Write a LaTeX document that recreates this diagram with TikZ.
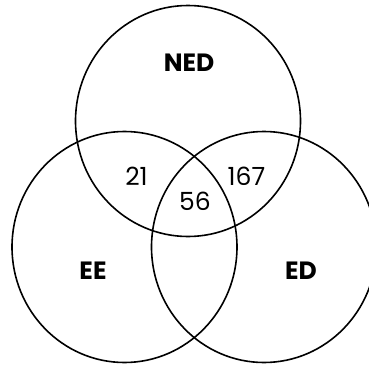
\documentclass[tikz,border=0pt]{standalone}
\usepackage{fontspec}
\setmainfont{Poppins}
\usepackage{tikz}
\usetikzlibrary{shapes.geometric}

\begin{document}
\begin{tikzpicture}[
  x=1pt, y=1pt,
  set/.style={ellipse, draw, line width=1.6pt, minimum width=225pt, minimum height=231pt, inner sep=0pt},
  setname/.style={font=\fontsize{25}{25}\selectfont\bfseries},
  count/.style={font=\fontsize{25}{25}\selectfont}
]
\useasboundingbox (0,0) rectangle (369,365);
\clip (0,0) rectangle (369,365);
\node[set] (ned) at (188,244) {};
\node[set] (ee) at (124.5,118) {};
\node[set] (ed) at (264,118) {};
\node[setname] (nedlabel) at (189,302) {NED};
\node[setname] (eelabel) at (93,94.5) {EE};
\node[setname] (edlabel) at (301,94.5) {ED};
\node[count] (nedee) at (136.5,188.5) {21};
\node[count] (neded) at (246.5,189) {167};
\node[count] (all) at (195,163.5) {56};
\end{tikzpicture}
\end{document}
